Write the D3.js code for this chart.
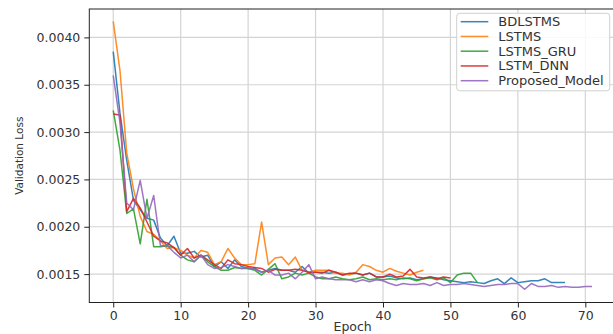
<!DOCTYPE html>
<html>
<head>
<meta charset="utf-8">
<script src="https://cdn.jsdelivr.net/npm/d3@7"></script>
<style>
  body { margin: 0; background: #fff; }
  svg { display: block; font-family: "DejaVu Sans", sans-serif; }
</style>
</head>
<body>
<div id="chart"></div>
<script>
// values, one per epoch starting at 0
const seriesNames = ['BDLSTMS', 'LSTMS', 'LSTMS_GRU', 'LSTM_DNN', 'Proposed_Model'];
const seriesColors = ['#1f77b4', '#ff7f0e', '#2ca02c', '#d62728', '#9467bd'];

const bdlstms = [0.00385, 0.00320, 0.00270, 0.00228, 0.00218, 0.00209, 0.00207, 0.00188, 0.00180, 0.00190,
  0.00172, 0.00172, 0.00174, 0.00168, 0.00170, 0.00158, 0.00163, 0.00156, 0.00165, 0.00158,
  0.00156, 0.00156, 0.00152, 0.00154, 0.00156, 0.00154, 0.00154, 0.00152, 0.00158, 0.00151,
  0.00152, 0.00152, 0.00151, 0.00152, 0.00149, 0.00150, 0.00151, 0.00149, 0.00151, 0.00147,
  0.00147, 0.00148, 0.00146, 0.00145, 0.00146, 0.00144, 0.00145, 0.00147, 0.00146, 0.00144,
  0.00143, 0.00142, 0.00141, 0.00142, 0.00141, 0.00140, 0.00143, 0.00145, 0.00140, 0.00146,
  0.00141, 0.00142, 0.00143, 0.00143, 0.00145, 0.00141, 0.00141, 0.00141];

const lstms = [0.00417, 0.00365, 0.00278, 0.00240, 0.00211, 0.00195, 0.00192, 0.00185, 0.00177, 0.00178,
  0.00175, 0.00170, 0.00167, 0.00175, 0.00173, 0.00160, 0.00163, 0.00177, 0.00167, 0.00160,
  0.00160, 0.00161, 0.00205, 0.00160, 0.00167, 0.00168, 0.00160, 0.00168, 0.00154, 0.00152,
  0.00154, 0.00154, 0.00154, 0.00151, 0.00151, 0.00149, 0.00152, 0.00160, 0.00158, 0.00154,
  0.00152, 0.00156, 0.00153, 0.00151, 0.00149, 0.00152, 0.00154];

const lstmsGru = [0.00323, 0.00281, 0.00214, 0.00219, 0.00182, 0.00229, 0.00179, 0.00179, 0.00180, 0.00178,
  0.00170, 0.00165, 0.00163, 0.00170, 0.00163, 0.00158, 0.00154, 0.00154, 0.00157, 0.00156,
  0.00156, 0.00154, 0.00149, 0.00155, 0.00161, 0.00145, 0.00147, 0.00151, 0.00149, 0.00151,
  0.00147, 0.00145, 0.00145, 0.00147, 0.00145, 0.00144, 0.00145, 0.00147, 0.00144, 0.00145,
  0.00144, 0.00145, 0.00144, 0.00146, 0.00145, 0.00143, 0.00145, 0.00146, 0.00144, 0.00146,
  0.00141, 0.00149, 0.00151, 0.00151, 0.00141];

const lstmDnn = [0.00319, 0.00318, 0.00216, 0.00230, 0.00220, 0.00205, 0.00190, 0.00185, 0.00183, 0.00178,
  0.00170, 0.00177, 0.00167, 0.00170, 0.00165, 0.00160, 0.00156, 0.00165, 0.00161, 0.00160,
  0.00158, 0.00157, 0.00156, 0.00152, 0.00155, 0.00154, 0.00154, 0.00155, 0.00154, 0.00152,
  0.00152, 0.00151, 0.00154, 0.00152, 0.00149, 0.00151, 0.00151, 0.00149, 0.00151, 0.00147,
  0.00147, 0.00150, 0.00147, 0.00148, 0.00155, 0.00147, 0.00146, 0.00147, 0.00145, 0.00147,
  0.00146];

const proposed = [0.00360, 0.00310, 0.00225, 0.00218, 0.00249, 0.00209, 0.00233, 0.00180, 0.00180, 0.00173,
  0.00167, 0.00170, 0.00163, 0.00170, 0.00160, 0.00156, 0.00157, 0.00160, 0.00158, 0.00156,
  0.00157, 0.00155, 0.00152, 0.00154, 0.00149, 0.00149, 0.00151, 0.00145, 0.00152, 0.00160,
  0.00145, 0.00147, 0.00145, 0.00144, 0.00144, 0.00144, 0.00142, 0.00144, 0.00142, 0.00144,
  0.00143, 0.00140, 0.00138, 0.00140, 0.00139, 0.00139, 0.00140, 0.00138, 0.00141, 0.00138,
  0.00139, 0.00139, 0.00140, 0.00139, 0.00138, 0.00137, 0.00138, 0.00139, 0.00139, 0.00140,
  0.00140, 0.00134, 0.00140, 0.00137, 0.00137, 0.00138, 0.00136, 0.00137, 0.00136, 0.00136,
  0.00137, 0.00137];

const xTicks = [0, 10, 20, 30, 40, 50, 60, 70];
const yTicks = [0.0015, 0.0020, 0.0025, 0.0030, 0.0035, 0.0040];

const allSeries = [bdlstms, lstms, lstmsGru, lstmDnn, proposed];

const W = 613, H = 334;
const plot = { left: 89.3, top: 9, right: 616, bottom: 302.5 };

const svg = d3.select('#chart').append('svg')
  .attr('width', W)
  .attr('height', H);

const x = d3.scaleLinear().domain([-3.55, 74.55]).range([plot.left, plot.right]);
const y = d3.scaleLinear().domain([0.0012, 0.0043]).range([plot.bottom, plot.top]);

// grid
svg.append('g')
  .selectAll('line.vx')
  .data(xTicks)
  .join('line')
  .attr('x1', d => x(d)).attr('x2', d => x(d))
  .attr('y1', plot.top).attr('y2', plot.bottom)
  .attr('stroke', '#d4d4d4').attr('stroke-width', 1.2);

svg.append('g')
  .selectAll('line.hy')
  .data(yTicks)
  .join('line')
  .attr('x1', plot.left).attr('x2', plot.right)
  .attr('y1', d => y(d)).attr('y2', d => y(d))
  .attr('stroke', '#d4d4d4').attr('stroke-width', 1.2);

// series
const line = d3.line()
  .x((d, i) => x(i))
  .y(d => y(d));

svg.append('g')
  .selectAll('path')
  .data(allSeries)
  .join('path')
  .attr('fill', 'none')
  .attr('stroke', (d, i) => seriesColors[i])
  .attr('stroke-width', 1.5)
  .attr('stroke-opacity', 0.9)
  .attr('stroke-linejoin', 'round')
  .attr('d', line);

// frame
svg.append('rect')
  .attr('x', plot.left).attr('y', plot.top)
  .attr('width', plot.right - plot.left)
  .attr('height', plot.bottom - plot.top)
  .attr('fill', 'none')
  .attr('stroke', '#222')
  .attr('stroke-width', 1);

// axes
const xAxis = d3.axisBottom(x).tickValues(xTicks).tickSize(5).tickPadding(4)
  .tickFormat(d3.format('d'));
const yAxis = d3.axisLeft(y).tickValues(yTicks).tickSize(5).tickPadding(4)
  .tickFormat(d3.format('.4f'));

const gx = svg.append('g')
  .attr('transform', `translate(0,${plot.bottom})`)
  .call(xAxis);
const gy = svg.append('g')
  .attr('transform', `translate(${plot.left},0)`)
  .call(yAxis);

[gx, gy].forEach(g => {
  g.select('.domain').remove();
  g.selectAll('.tick line').attr('stroke', '#222');
  g.selectAll('.tick text')
    .attr('fill', '#333')
    .style('font-size', '12.5px')
    .style('font-family', '"DejaVu Sans", sans-serif');
});

// axis labels
svg.append('text')
  .attr('x', (plot.left + plot.right) / 2)
  .attr('y', 330.5)
  .attr('text-anchor', 'middle')
  .attr('fill', '#333')
  .style('font-size', '12.5px')
  .text('Epoch');

svg.append('text')
  .attr('transform', `translate(23,${(plot.top + plot.bottom) / 2}) rotate(-90)`)
  .attr('text-anchor', 'middle')
  .attr('fill', '#333')
  .style('font-size', '10.5px')
  .text('Validation Loss');

// legend
const legend = svg.append('g');
legend.append('rect')
  .attr('x', 456.7).attr('y', 13.3)
  .attr('width', 153).attr('height', 77.5)
  .attr('rx', 3).attr('ry', 3)
  .attr('fill', '#fff').attr('fill-opacity', 0.85)
  .attr('stroke', '#d0d0d0');

const items = legend.selectAll('g.item')
  .data(seriesNames)
  .join('g')
  .attr('transform', (d, i) => `translate(0,${21.7 + i * 14.75})`);

items.append('line')
  .attr('x1', 460.7).attr('x2', 488.3)
  .attr('stroke', (d, i) => seriesColors[i])
  .attr('stroke-width', 1.5)
  .attr('stroke-opacity', 0.9);

items.append('text')
  .attr('x', 498.3)
  .attr('y', 4.5)
  .attr('fill', '#333')
  .style('font-size', '13px')
  .text(d => d);
</script>
</body>
</html>
